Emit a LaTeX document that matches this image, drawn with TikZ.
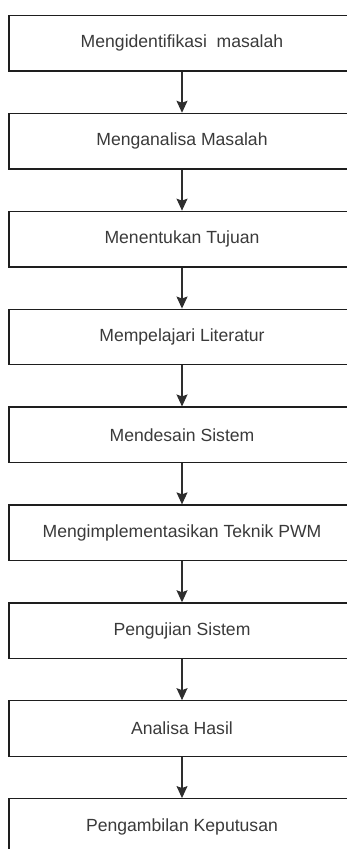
\documentclass[tikz,border=0pt]{standalone}
\usepackage{fontspec}
\setmainfont{Liberation Sans}
\usetikzlibrary{arrows.meta}
\definecolor{txt}{HTML}{3A3A3A}
\definecolor{edge}{HTML}{1E1E1E}
\definecolor{conn}{HTML}{2E2E2E}
\tikzset{
  stepbox/.style={draw=edge, line width=1.3pt, rectangle, minimum width=338.3pt, minimum height=55.6pt,
    inner sep=0pt, text=txt, font=\fontsize{17.6pt}{20pt}\selectfont},
  flow/.style={draw=conn, line width=1.1pt, -{Stealth[length=12pt,width=11pt,inset=2pt]}}
}
\newcommand{\steptext}[1]{\hspace*{7.7pt}#1}
\begin{document}
\begin{tikzpicture}[x=1pt,y=-1pt]
\useasboundingbox (0,0) rectangle (347,849);
\node[stepbox] (b1) at (178.15,43.3) {\steptext{Mengidentifikasi\ \ masalah}};
\node[stepbox] (b2) at (178.15,141.2) {\steptext{Menganalisa Masalah}};
\node[stepbox] (b3) at (178.15,239.1) {\steptext{Menentukan Tujuan}};
\node[stepbox] (b4) at (178.15,337.0) {\steptext{Mempelajari Literatur}};
\node[stepbox] (b5) at (178.15,434.9) {\steptext{Mendesain Sistem}};
\node[stepbox] (b6) at (178.15,532.8) {\steptext{Mengimplementasikan Teknik PWM}};
\node[stepbox] (b7) at (178.15,630.7) {\steptext{Pengujian Sistem}};
\node[stepbox] (b8) at (178.15,728.6) {\steptext{Analisa Hasil}};
\node[stepbox] (b9) at (178.15,826.5) {\steptext{Pengambilan Keputusan}};
\foreach \a/\b in {b1/b2,b2/b3,b3/b4,b4/b5,b5/b6,b6/b7,b7/b8,b8/b9}
  \draw[flow] ([xshift=3.85pt]\a.south) -- ([xshift=3.85pt]\b.north);
\end{tikzpicture}
\end{document}
